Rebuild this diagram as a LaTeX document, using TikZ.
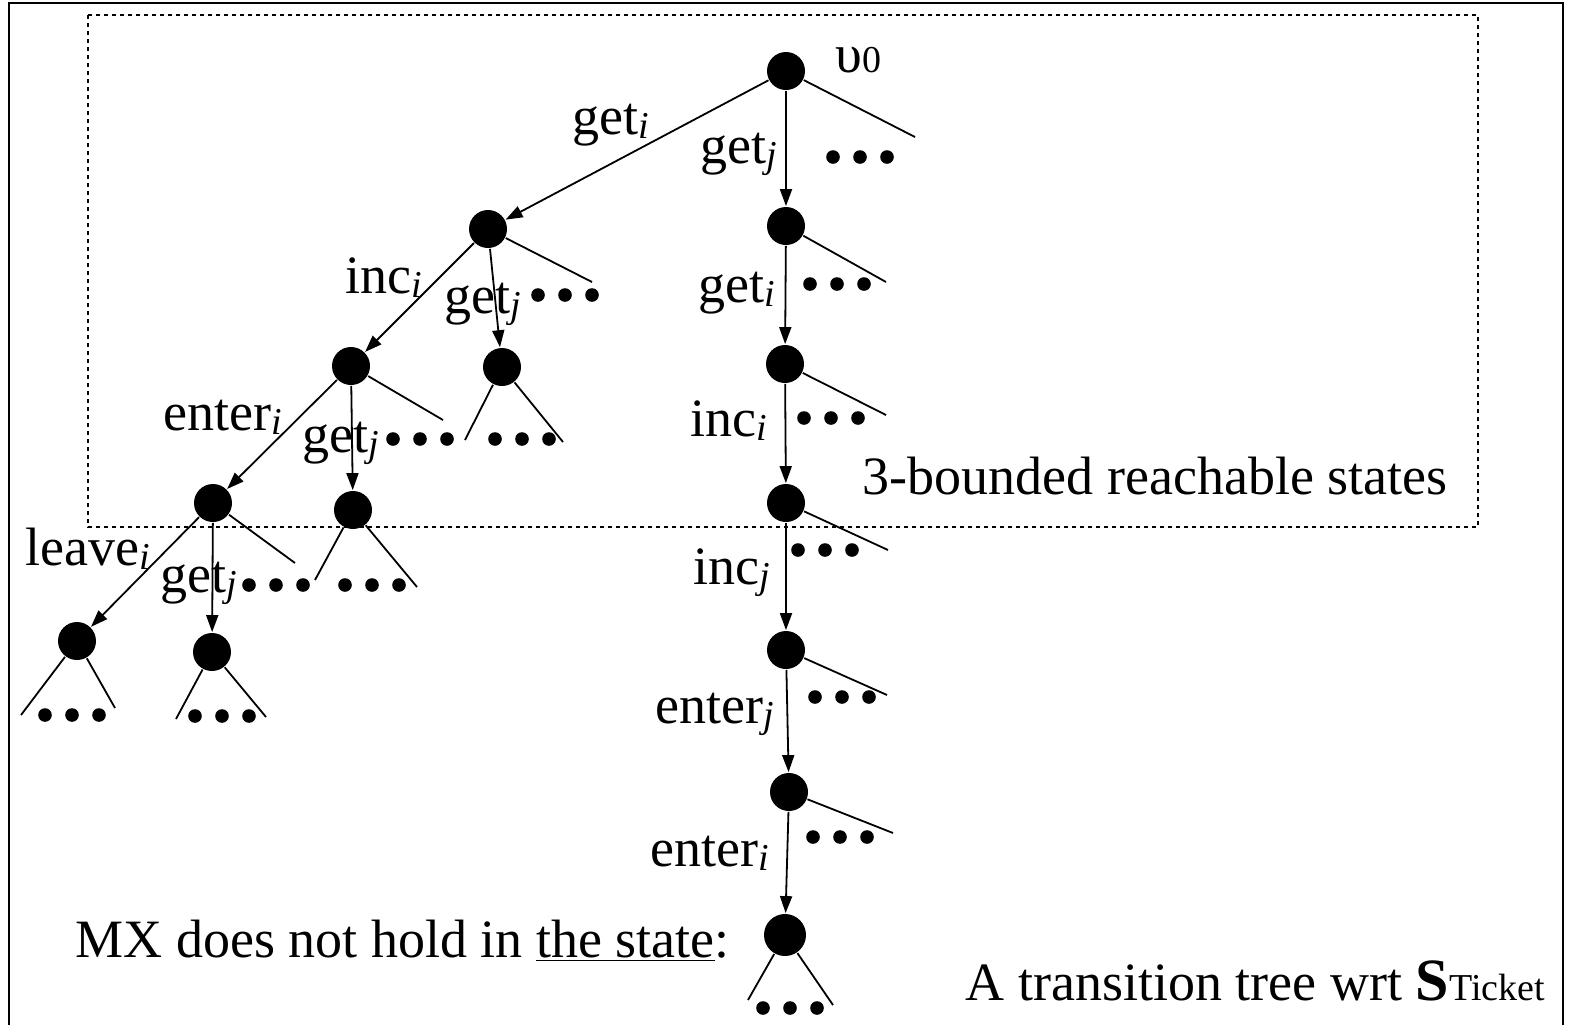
\documentclass[tikz,border=0pt]{standalone}
\usepackage{fontspec}
\setmainfont{Liberation Serif}
\usetikzlibrary{arrows.meta}
\newcommand\ix[1]{\raisebox{-0.2ex}{\fontsize{19}{19}\selectfont\itshape #1}}
\tikzset{
  >={Triangle[length=8.5pt,width=6pt]},
  state/.style={circle, fill=black, minimum size=19pt, inner sep=0pt},
  lbl/.style={anchor=base west, inner sep=0pt, font=\fontsize{27}{32}\selectfont},
  tdots/.pic={\foreach \k in {-1,0,1} \fill (\k*27,0) circle (3.4pt);},
}

\begin{document}
\begin{tikzpicture}[x=0.5pt,y=-0.5pt,line width=0.9pt]
      \useasboundingbox (0,0) rectangle (1570,1024);
      \draw[line width=1pt] (9,1030) -- (9,3) -- (1563,3) -- (1563,1030);
      \draw[line width=0.75pt, dash pattern=on 2pt off 2pt] (88,15) rectangle (1478,527);

      % states
      \node[state] (v0) at (786,71)  {};
      \node[state] (a)  at (488,229) {};
      \node[state] (b)  at (786,226) {};
      \node[state] (c)  at (351,366) {};
      \node[state] (d)  at (502,367) {};
      \node[state] (e)  at (785,364) {};
      \node[state] (f)  at (213,503) {};
      \node[state] (g)  at (353,510) {};
      \node[state] (h)  at (786,503) {};
      \node[state] (i)  at (77,641)  {};
      \node[state] (j)  at (212,652) {};
      \node[state] (k)  at (786,650) {};
      \node[state] (l)  at (789,792) {};
      \node[state, minimum height=21pt] (m) at (785,935) {};

      % transitions
      \draw[->] (v0) -- (a);
      \draw[->] (v0) -- (b);
      \draw[->] (a) -- (c);
      \draw[->] (a) -- (d);
      \draw[->] (b) -- (e);
      \draw[->] (c) -- (f);
      \draw[->] (c) -- (g);
      \draw[->] (e) -- (h);
      \draw[->] (f) -- (i);
      \draw[->] (f) -- (j);
      \draw[->] (h) -- (k);
      \draw[->] (k) -- (l);
      \draw[->] (l) -- (m);

      % other branches
      \draw (v0) -- (915,137);
      \draw (a) -- (592,282);
      \draw (b) -- (886,282);
      \draw (c) -- (443,420);
      \draw (e) -- (886,415);
      \draw (f) -- (295,563);
      \draw (h) -- (888,550);
      \draw (k) -- (887,695);
      \draw (l) -- (893,833);
      \draw (d) -- (465,440)  (d) -- (563,442);
      \draw (g) -- (315,580)  (g) -- (417,587);
      \draw (i) -- (21,715)   (i) -- (115,708);
      \draw (j) -- (176,719)  (j) -- (266,717);
      \draw (m) -- (748,1000) (m) -- (833,1005);

      \pic at (860,157) {tdots};
      \pic at (565,295) {tdots};
      \pic at (837,284) {tdots};
      \pic at (420,439) {tdots};
      \pic at (522,439) {tdots};
      \pic at (831,418) {tdots};
      \pic at (276,585) {tdots};
      \pic at (372,585) {tdots};
      \pic at (825,550) {tdots};
      \pic at (72,715)  {tdots};
      \pic at (222,716) {tdots};
      \pic at (842,697) {tdots};
      \pic at (840,837) {tdots};
      \pic at (790,1008) {tdots};

      % labels
      \node[lbl] (v0lbl) at (835,72)  {υ{\fontsize{19}{19}\selectfont 0}};
      \node[lbl] (lgi1) at (572,134) {get\ix{i}};
      \node[lbl] (lgj1) at (700,163) {get\ix{j}};
      \node[lbl] (lii1) at (345,293) {inc\ix{i}};
      \node[lbl] (lgj2) at (444,313) {get\ix{j}};
      \node[lbl] (lei1) at (163,430) {enter\ix{i}};
      \node[lbl] (lgj3) at (302,452) {get\ix{j}};
      \node[lbl] (lli)  at (25,565)  {leave\ix{i}};
      \node[lbl] (lgj4) at (160,592) {get\ix{j}};
      \node[lbl] (lgi2) at (698,302) {get\ix{i}};
      \node[lbl] (lii2) at (690,436) {inc\ix{i}};
      \node[lbl] (lij)  at (693,584) {inc\ix{j}};
      \node[lbl] (lej)  at (655,723) {enter\ix{j}};
      \node[lbl] (lei2) at (650,866) {enter\ix{i}};

      \node[lbl] (bound) at (862,494) {3-bounded reachable states};
      \node[lbl] (mx)    at (75,957)  {MX does not hold in \underline{the state}:};
      \node[lbl] (title) at (965,1000) {A transition tree wrt {\fontsize{30}{30}\selectfont\bfseries S}{\fontsize{19}{19}\selectfont Ticket}};
\end{tikzpicture}
\end{document}
